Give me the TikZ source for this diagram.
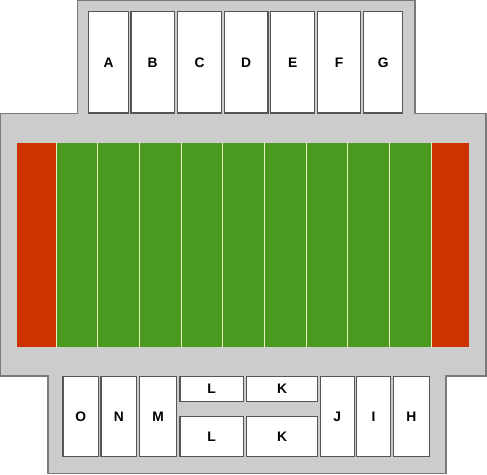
\documentclass[tikz,border=0pt]{standalone}
\usepackage{fontspec}
\setmainfont{Liberation Sans}
\definecolor{standgray}{HTML}{CCCCCC}
\definecolor{standline}{HTML}{7A7A7A}
\definecolor{seatline}{HTML}{555555}
\definecolor{endred}{HTML}{CC3300}
\definecolor{turf}{HTML}{4A9A20}
\definecolor{yardline}{HTML}{E8F0C0}
\tikzset{
  seat/.style={draw=seatline, fill=white, line width=1.2pt, inner sep=0pt,
    font=\fontsize{13.8}{16}\selectfont\bfseries},
  stand/.style={draw=standline, fill=standgray, line width=1.4pt},
  cell/.style={draw=yardline, line width=0.9pt},
}
\begin{document}
\begin{tikzpicture}[x=1pt,y=-1pt]
\useasboundingbox (0,0) rectangle (487,474);
% stadium outline
\draw[stand] (77.5,0.7) -- (415,0.7) -- (415,113.5) -- (486,113.5) -- (486,376) -- (446,376)
  -- (446,473.3) -- (48,473.3) -- (48,376) -- (0.7,376) -- (0.7,113.5) -- (77.5,113.5) -- cycle;
% field
\fill[endred] (17,143.3) rectangle (56,346.7);
\fill[endred] (431,143.3) rectangle (469.3,346.7);
\foreach \i in {0,...,8}{
  \fill[turf] ({56+\i*41.667},143.3) rectangle ({56+(\i+1)*41.667},346.7);
}
\foreach \i in {0,...,9}{
  \draw[cell] ({56+\i*41.667},143.3) -- ({56+\i*41.667},346.7);
}
% top seats
\node[seat, minimum width=40pt, minimum height=101.3pt] (A) at (108.7,62.35) {A};
\node[seat, minimum width=43.3pt, minimum height=101.3pt] (B) at (152.65,62.35) {B};
\node[seat, minimum width=44.4pt, minimum height=101.3pt] (C) at (199.5,62.35) {C};
\node[seat, minimum width=43.7pt, minimum height=101.3pt] (D) at (246.15,62.35) {D};
\node[seat, minimum width=44pt, minimum height=101.3pt] (E) at (292.7,62.35) {E};
\node[seat, minimum width=43.4pt, minimum height=101.3pt] (F) at (339,62.35) {F};
\node[seat, minimum width=39pt, minimum height=101.3pt] (G) at (383.2,62.35) {G};
% bottom seats
\node[seat, minimum width=35.7pt, minimum height=80pt] (O) at (80.85,416.7) {O};
\node[seat, minimum width=35.7pt, minimum height=80pt] (N) at (118.85,416.7) {N};
\node[seat, minimum width=36.6pt, minimum height=80pt] (M) at (158,416.7) {M};
\node[seat, minimum width=63.3pt, minimum height=24.6pt] (L1) at (211.65,389) {L};
\node[seat, minimum width=63.3pt, minimum height=40pt] (L2) at (211.65,436.7) {L};
\node[seat, minimum width=71.4pt, minimum height=24.6pt] (K1) at (282,389) {K};
\node[seat, minimum width=71.4pt, minimum height=40pt] (K2) at (282,436.7) {K};
\node[seat, minimum width=34pt, minimum height=80pt] (J) at (337.3,416.7) {J};
\node[seat, minimum width=34.4pt, minimum height=80pt] (I) at (373.5,416.7) {I};
\node[seat, minimum width=36pt, minimum height=80pt] (H) at (411.3,416.7) {H};
\end{tikzpicture}
\end{document}
